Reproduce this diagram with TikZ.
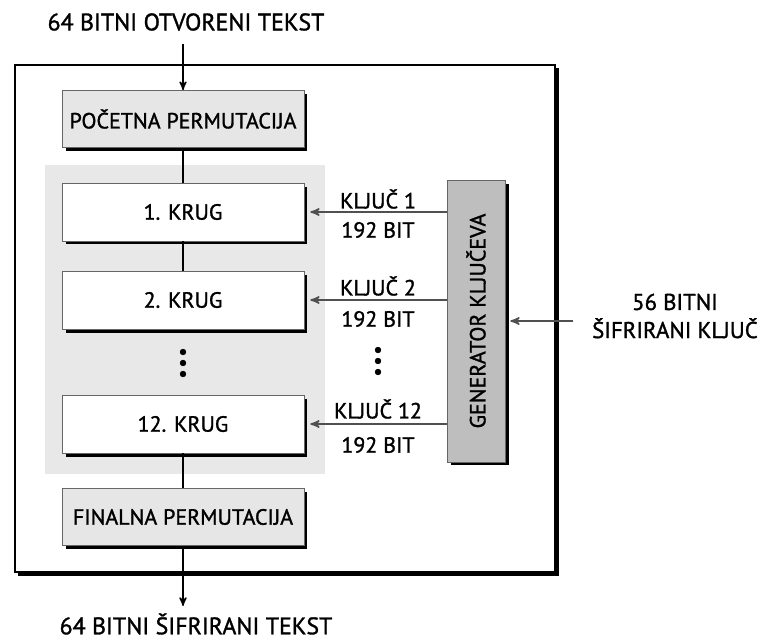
\documentclass[tikz,border=0pt]{standalone}
\usepackage{fontspec}
\setmainfont{PT Sans}[FakeBold=1.3]
\usetikzlibrary{arrows,shadows}
\definecolor{permgray}{RGB}{230,230,230}
\definecolor{roundgray}{RGB}{232,232,232}
\definecolor{gengray}{RGB}{190,190,190}
\definecolor{keyline}{RGB}{80,80,80}
\tikzset{
  boxshadow/.style={general shadow={fill=black, shadow xshift=0.07cm, shadow yshift=-0.07cm}},
  permbox/.style={draw=gray!80!black, fill=permgray, boxshadow, minimum width=4.84cm, minimum height=1.14cm, inner sep=0pt},
  roundbox/.style={permbox, fill=white, minimum height=1.16cm},
  keyarrow/.style={draw=keyline, line width=0.9pt, ->, >=stealth'},
  lbl/.style={inner sep=0pt},
  title/.style={lbl, font=\fontsize{13.6}{15}\selectfont}
}

\begin{document}
\begin{tikzpicture}[x=0.02cm, y=-0.02cm, font=\fontsize{12.5}{14}\selectfont]
        \useasboundingbox (0,0) rectangle (766,639);

        % outer frame
        \filldraw[black] (18,68) rectangle (558,575);
        \filldraw[fill=white, draw=black, line width=0.8pt] (15,65) rectangle (555,572);

        % rounds area
        \fill[roundgray] (45,165) rectangle (325,474);

        \node[title] (plain) at (186,22) {64 BITNI OTVORENI TEKST};
        \coordinate (inarrow) at (183,44);
        \node[permbox] (poc) at (183,119) {POČETNA PERMUTACIJA};

        \node[roundbox] (k1) at (183,212) {1. KRUG};
        \node[roundbox] (k2) at (183,300) {2. KRUG};
        \node[roundbox] (k12) at (183,424) {12. KRUG};

        \node[permbox] (fin) at (183,517) {FINALNA PERMUTACIJA};
        \coordinate (outarrow) at (183,606);
        \node[title] (cipher) at (196,624) {64 BITNI ŠIFRIRANI TEKST};

        \node[draw=gray!80!black, fill=gengray, boxshadow, minimum width=1.16cm, minimum height=5.64cm, inner sep=0pt] (gen) at (476,321) {};
        \node[lbl, rotate=90] at (gen) {GENERATOR KLJUČEVA};

        \node[lbl, align=center, font=\fontsize{13}{15}\selectfont] (key56) at (675,316) {56 BITNI\\[1pt]ŠIFRIRANI KLJUČ};
        \coordinate (keyin) at (573,321);

        % data path
        \draw[->, >=stealth', line width=0.8pt] (inarrow) -- (poc.north);
        \draw[line width=0.8pt] (poc.south) -- (k1.north);
        \draw[line width=0.8pt] (k1.south) -- (k2.north);
        \draw[line width=0.8pt] (k12.south) -- (fin.north);
        \draw[->, >=stealth', line width=0.8pt] (fin.south) -- (outarrow);

        % round keys
        \draw[keyarrow] (gen.west |- k1) -- ([xshift=0.12cm]k1.east);
        \draw[keyarrow] (gen.west |- k2) -- ([xshift=0.12cm]k2.east);
        \draw[keyarrow] (gen.west |- k12) -- ([xshift=0.12cm]k12.east);
        \draw[keyarrow] (keyin) -- ([xshift=0.1cm]gen.east |- keyin);

        \node[lbl] (key1) at (378,199) {KLJUČ 1};
        \node[lbl] (bit1) at (378,230) {192 BIT};
        \node[lbl] (key2) at (378,286) {KLJUČ 2};
        \node[lbl] (bit2) at (378,319) {192 BIT};
        \node[lbl] (key12) at (378,409) {KLJUČ 12};
        \node[lbl] (bit12) at (378,445) {192 BIT};

        % dots
        \filldraw (183,352) circle (2.8);
        \filldraw (183,363) circle (2.8);
        \filldraw (183,374) circle (2.8);
        \filldraw (378,350) circle (2.8);
        \filldraw (378,361) circle (2.8);
        \filldraw (378,372) circle (2.8);
\end{tikzpicture}
\end{document}
